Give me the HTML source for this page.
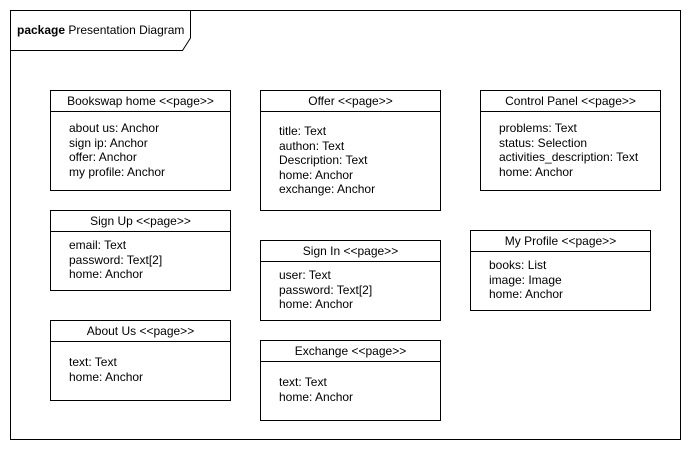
<!DOCTYPE html>
<html><head><style>
body{margin:0;width:691px;height:451px;background:#fff;font-family:"Liberation Sans",Arial,sans-serif;font-size:12px;color:#000;position:relative;overflow:hidden}
.b{position:absolute;border:1px solid #000;box-sizing:border-box;background:#fff}
.h{position:absolute;left:0;right:0;top:0;height:20px;border-bottom:1px solid #000;text-align:center;line-height:20px}
.t{position:absolute;white-space:nowrap;line-height:14.5px}
</style></head><body>
<svg width="691" height="451" style="position:absolute;left:0;top:0">
<rect x="10.5" y="10.5" width="670" height="429" fill="none" stroke="#000"/>
<path d="M10.5 50.5 H182.5 L190.5 38 V10.5" fill="none" stroke="#000"/>
</svg>
<div class="t" style="left:17px;top:23px"><b>package</b> Presentation Diagram</div>

<div class="b" style="left:50px;top:90px;width:181px;height:101px"><div class="h">Bookswap home &lt;&lt;page&gt;&gt;</div></div>
<div class="t" style="left:69px;top:121px">about us: Anchor<br>sign ip: Anchor<br>offer: Anchor<br>my profile: Anchor</div>

<div class="b" style="left:260px;top:90px;width:181px;height:121px"><div class="h">Offer &lt;&lt;page&gt;&gt;</div></div>
<div class="t" style="left:279px;top:124px">title: Text<br>authon: Text<br>Description: Text<br>home: Anchor<br>exchange: Anchor</div>

<div class="b" style="left:480px;top:90px;width:181px;height:101px"><div class="h">Control Panel &lt;&lt;page&gt;&gt;</div></div>
<div class="t" style="left:499px;top:121px">problems: Text<br>status: Selection<br>activities_description: Text<br>home: Anchor</div>

<div class="b" style="left:50px;top:210px;width:181px;height:81px"><div class="h">Sign Up &lt;&lt;page&gt;&gt;</div></div>
<div class="t" style="left:69px;top:238px">email: Text<br>password: Text[2]<br>home: Anchor</div>

<div class="b" style="left:260px;top:240px;width:181px;height:81px"><div class="h">Sign In &lt;&lt;page&gt;&gt;</div></div>
<div class="t" style="left:279px;top:268px">user: Text<br>password: Text[2]<br>home: Anchor</div>

<div class="b" style="left:470px;top:230px;width:181px;height:81px"><div class="h">My Profile &lt;&lt;page&gt;&gt;</div></div>
<div class="t" style="left:489px;top:258px">books: List<br>image: Image<br>home: Anchor</div>

<div class="b" style="left:50px;top:320px;width:181px;height:81px"><div class="h">About Us &lt;&lt;page&gt;&gt;</div></div>
<div class="t" style="left:69px;top:355px">text: Text<br>home: Anchor</div>

<div class="b" style="left:260px;top:340px;width:181px;height:81px"><div class="h">Exchange &lt;&lt;page&gt;&gt;</div></div>
<div class="t" style="left:279px;top:375px">text: Text<br>home: Anchor</div>
</body></html>
